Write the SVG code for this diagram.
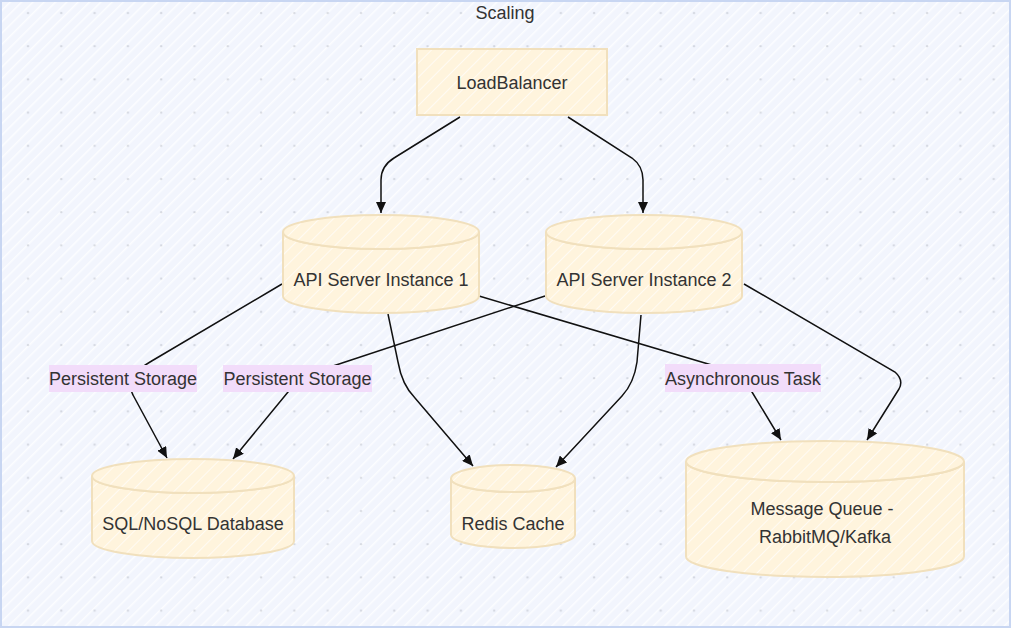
<svg xmlns="http://www.w3.org/2000/svg" width="1012" height="630" viewBox="0 0 1012 630">
<defs>
<pattern id="bgHatch" patternUnits="userSpaceOnUse" width="8" height="8" patternTransform="rotate(45)">
<rect width="8" height="8" fill="#f2f5fd"/>
<line x1="0" y1="0" x2="0" y2="8" stroke="#ffffff" stroke-width="3" opacity="0.8"/>
</pattern>
<pattern id="dots" patternUnits="userSpaceOnUse" x="23" y="8" width="33.3" height="33.2">
<path d="M3.8,5 L6.2,5 M5,3.8 L5,6.2" stroke="#b4b9c4" stroke-width="1" opacity="0.55"/>
</pattern>
<pattern id="nodeHatch" patternUnits="userSpaceOnUse" width="10" height="10" patternTransform="rotate(45)">
<rect width="10" height="10" fill="#fff4dd"/>
<line x1="0" y1="0" x2="0" y2="10" stroke="#ffffff" stroke-width="1.6" opacity="0.85"/>
</pattern>
<marker id="arrow" markerUnits="userSpaceOnUse" markerWidth="12" markerHeight="10" refX="11" refY="5" orient="auto">
<path d="M0,0 L11,5 L0,10 z" fill="#111"/>
</marker>
<style>
.frame{fill:url(#bgHatch);stroke:#c8d6f2;stroke-width:2}
.node{fill:url(#nodeHatch);stroke:#f1e0bd;stroke-width:2}
.txt{font-family:"Liberation Sans",Arial,sans-serif;font-size:18px;fill:#333;text-anchor:middle}
.edge{fill:none;stroke:#111;stroke-width:1.5;marker-end:url(#arrow)}
.lbl{fill:#f2dcfa}
</style>
</defs>
<g id="cluster-Scaling">
<rect class="frame" x="1" y="1" width="1009" height="626"/>
<rect x="1" y="1" width="1009" height="626" fill="url(#dots)"/>
<text class="txt" x="505" y="19">Scaling</text>
</g>
<g id="connectors">
<path class="edge" d="M460,117 L394,158 Q381,166 381,180 L381,213"/>
<path class="edge" d="M568,117 L632,158 Q643,166 643,180 L643,213"/>
<path class="edge" d="M282,284 L150,362 Q123,378 133,395 L167,458"/>
<path class="edge" d="M545,296 L330,367 Q297,378 288,392 L233,459"/>
<path class="edge" d="M388,314 L398,362 Q402,385 415,398 L473,466"/>
<path class="edge" d="M641,315 L637,362 Q634,383 622,396 L556,467"/>
<path class="edge" d="M479,296 L715,366 Q743,378 752,392 L781,440"/>
<path class="edge" d="M744,284 L895,372 Q904,380 899,389 L867,440"/>
</g>
<g id="edge-labels">
<g id="label-persistent-1"><rect class="lbl" x="49" y="365" width="148" height="27"/><text class="txt" x="123" y="384.5">Persistent Storage</text></g>
<g id="label-persistent-2"><rect class="lbl" x="223" y="365" width="149" height="27"/><text class="txt" x="297.5" y="384.5">Persistent Storage</text></g>
<g id="label-async"><rect class="lbl" x="665" y="364" width="156" height="28"/><text class="txt" x="743" y="384.5">Asynchronous Task</text></g>
</g>
<g id="LoadBalancer">
<rect class="node" x="417" y="49" width="190" height="66"/>
<text class="txt" x="512" y="88.5">LoadBalancer</text>
</g>
<g id="API1">
<path class="node" d="M283,232 L283,296 A98,17 0 0 0 479,296 L479,232 A98,17 0 0 1 283,232 z"/>
<ellipse class="node" cx="381" cy="232" rx="98" ry="17"/>
<text class="txt" x="381" y="285.5">API Server Instance 1</text>
</g>
<g id="API2">
<path class="node" d="M546,232 L546,296 A98,17 0 0 0 742,296 L742,232 A98,17 0 0 1 546,232 z"/>
<ellipse class="node" cx="644" cy="232" rx="98" ry="17"/>
<text class="txt" x="644" y="285.5">API Server Instance 2</text>
</g>
<g id="DB">
<path class="node" d="M92,476 L92,541 A101,17 0 0 0 294,541 L294,476 A101,17 0 0 1 92,476 z"/>
<ellipse class="node" cx="193" cy="476" rx="101" ry="17"/>
<text class="txt" x="193" y="529.5">SQL/NoSQL Database</text>
</g>
<g id="Redis">
<path class="node" d="M451,478.5 L451,534.5 A62,13.5 0 0 0 575,534.5 L575,478.5 A62,13.5 0 0 1 451,478.5 z"/>
<ellipse class="node" cx="513" cy="478.5" rx="62" ry="13.5"/>
<text class="txt" x="513" y="529.5">Redis Cache</text>
</g>
<g id="MQ">
<path class="node" d="M686,461.5 L686,556.5 A139,20.5 0 0 0 964,556.5 L964,461.5 A139,20.5 0 0 1 686,461.5 z"/>
<ellipse class="node" cx="825" cy="461.5" rx="139" ry="20.5"/>
<text class="txt" x="822" y="514.5">Message Queue -</text>
<text class="txt" x="825" y="542.5">RabbitMQ/Kafka</text>
</g>
</svg>
